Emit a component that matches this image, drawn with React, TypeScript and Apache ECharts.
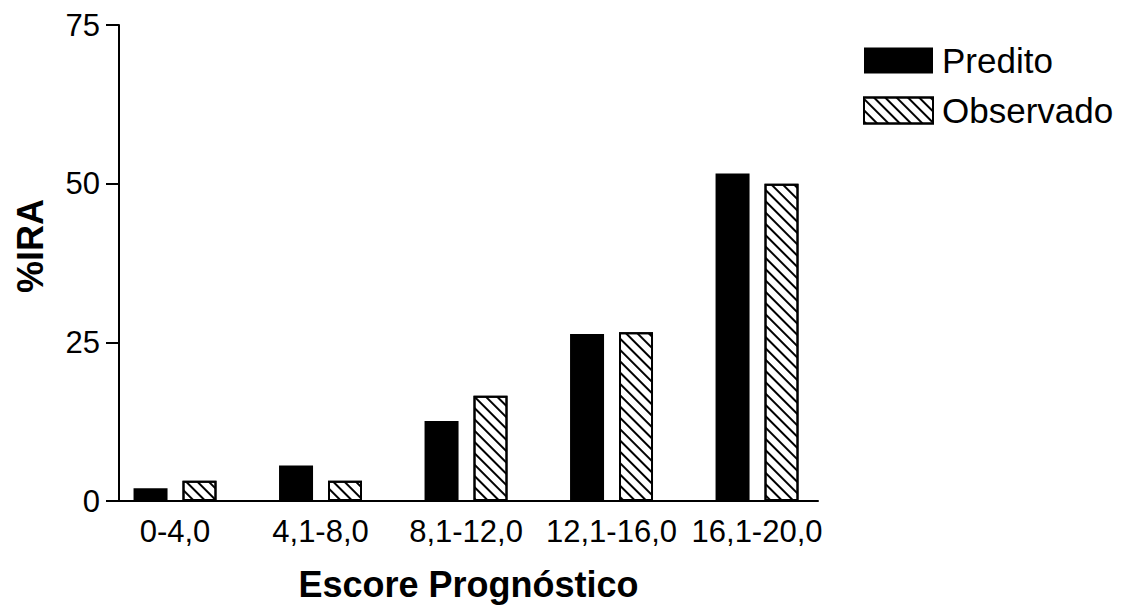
import React, { useEffect, useRef } from "react";
import * as echarts from "echarts";

const categories = ["0-4,0", "4,1-8,0", "8,1-12,0", "12,1-16,0", "16,1-20,0"];
const predito = [2.0, 5.6, 12.6, 26.3, 51.6];
const observado = [3.2, 3.2, 16.6, 26.6, 50.0];
const yTicks = [0, 25, 50, 75];

const FONT = "'Liberation Sans', Arial, Helvetica, sans-serif";

export default function App() {
  const ref = useRef<HTMLDivElement>(null);
  useEffect(() => {
    if (!ref.current) return;
    const chart = echarts.init(ref.current, undefined, { renderer: "svg" });
    const positions = categories.map((_, i) => i);
    chart.setOption({
      animation: false,
      backgroundColor: "#fff",
      textStyle: { fontFamily: FONT, color: "#000" },
      grid: { left: 111, right: 302, top: 17, bottom: 104, containLabel: false, outerBoundsMode: "none" },
      legend: {
        orient: "vertical",
        left: 850,
        top: 30,
        icon: "rect",
        itemWidth: 69,
        itemHeight: 26,
        itemGap: 15,
        textStyle: { fontSize: 35, color: "#000", fontFamily: FONT, padding: [0, 0, 0, 4] },
        data: ["Predito", "Observado"],
      },
      xAxis: {
        type: "value",
        min: -0.385,
        max: 4.419,
        name: "Escore Prognóstico",
        nameLocation: "middle",
        nameGap: 65,
        nameMoveOverlap: false,
        nameTextStyle: { fontSize: 36, lineHeight: 36, fontWeight: "bold", color: "#000", fontFamily: FONT },
        axisLine: { show: true, onZero: false, lineStyle: { color: "#000", width: 2 } },
        axisTick: { show: false },
        splitLine: { show: false },
        axisLabel: {
          customValues: positions,
          formatter: (v: number) => categories[Math.round(v)] ?? "",
          fontSize: 31,
          color: "#000",
          margin: 15,
          fontFamily: FONT,
        },
      },
      yAxis: {
        type: "value",
        min: 0,
        max: yTicks[yTicks.length - 1],
        interval: 25,
        name: "%IRA",
        nameLocation: "middle",
        nameGap: 71,
        nameMoveOverlap: false,
        nameRotate: 90,
        nameTextStyle: { fontSize: 36, fontWeight: "bold", color: "#000", fontFamily: FONT, padding: [0, 0, 0, 34] },
        axisLine: { show: true, onZero: false, lineStyle: { color: "#000", width: 2 } },
        axisTick: { show: true, length: 13, lineStyle: { color: "#000", width: 2 } },
        splitLine: { show: false },
        axisLabel: { fontSize: 31, color: "#000", margin: 19, fontFamily: FONT },
      },
      series: [
        {
          name: "Predito",
          type: "bar",
          barWidth: 34,
          barGap: "44%",
          data: predito.map((v, i) => [positions[i], v]),
          itemStyle: { color: "#000", borderColor: "#000", borderWidth: 0 },
        },
        {
          name: "Observado",
          type: "bar",
          barWidth: 34,
          barGap: "44%",
          data: observado.map((v, i) => [positions[i], v]),
          itemStyle: {
            color: "#fff",
            borderColor: "#000",
            borderWidth: 2,
            decal: {
              symbol: "rect",
              symbolSize: 1,
              color: "#000",
              backgroundColor: "#fff",
              dashArrayX: [1, 0],
              dashArrayY: [1.5, 5.5],
              rotation: Math.PI / 4,
            },
          },
        },
      ],
    });
    return () => chart.dispose();
  }, []);
  return <div ref={ref} style={{ width: 1112, height: 597 }} />;
}
